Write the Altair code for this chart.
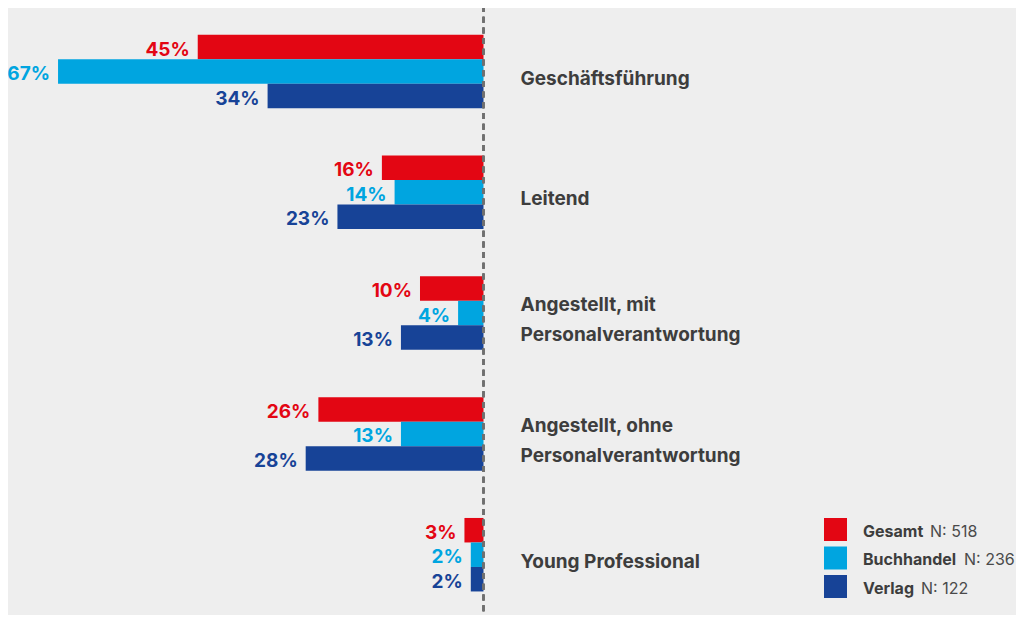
import altair as alt
import pandas as pd

categories = [
    "Geschäftsführung",
    "Leitend",
    "Angestellt, mit\nPersonalverantwortung",
    "Angestellt, ohne\nPersonalverantwortung",
    "Young Professional",
]
series = ["Gesamt", "Buchhandel", "Verlag"]
gesamt = [45, 16, 10, 26, 3]
buchhandel = [67, 14, 4, 13, 2]
verlag = [34, 23, 13, 28, 2]
sample_n = [518, 236, 122]
colors = ["#E30613", "#00A5E0", "#174397"]

# layout constants (not data)
W, H = 1008, 607
FONT = "Inter"
TEXT_GREY = "#3d3d3d"
legend_n_x = [922, 956, 913]

rows = []
for s, vals in zip(series, [gesamt, buchhandel, verlag]):
    for c, v in zip(categories, vals):
        rows.append({"category": c, "series": s, "value": v, "label": f"{v}%"})
df = pd.DataFrame(rows)

cat_rows = []
for c in categories:
    parts = c.split("\n")
    cat_rows.append({"category": c, "line1": parts[0],
                     "line2": parts[1] if len(parts) > 1 else "",
                     "nlines": len(parts)})
cat_df = pd.DataFrame(cat_rows)

leg_df = pd.DataFrame({
    "series": series,
    "ntext": [f"N: {n}" for n in sample_n],
    "row": list(range(len(series))),
    "nx": legend_n_x,
})

yenc = alt.Y("category:N", sort=categories, axis=None,
             scale=alt.Scale(domain=categories, paddingInner=0.3916,
                             paddingOuter=0.2082, align=0.532))
yoff = alt.YOffset("series:N", sort=series, scale=alt.Scale(paddingInner=0, paddingOuter=0))
xscale = alt.Scale(domain=[-74.88, 83.86], nice=False, zero=False)
cenc = alt.Color("series:N", scale=alt.Scale(domain=series, range=colors), legend=None)

base = alt.Chart(df).transform_calculate(neg="-datum.value")

bars = base.mark_bar().encode(
    y=yenc, yOffset=yoff,
    x=alt.X("neg:Q", scale=xscale, axis=None),
    x2=alt.datum(0),
    color=cenc,
)

pct = base.mark_text(align="right", baseline="alphabetic", dx=-8, dy=8.5,
                     fontSize=19, fontWeight="bold", font=FONT).encode(
    y=yenc, yOffset=yoff,
    x=alt.X("neg:Q", scale=xscale, axis=None),
    text="label:N",
    color=cenc,
)

cat_style = dict(align="left", baseline="alphabetic", dx=37,
                 fontSize=19, fontWeight="bold", font=FONT, color=TEXT_GREY)
cat_base = alt.Chart(cat_df)
cat_single = cat_base.transform_filter("datum.nlines == 1").mark_text(dy=13, **cat_style).encode(
    y=yenc, x=alt.datum(0, scale=xscale), text="line1:N")
cat_multi1 = cat_base.transform_filter("datum.nlines == 2").mark_text(dy=-2, **cat_style).encode(
    y=yenc, x=alt.datum(0, scale=xscale), text="line1:N")
cat_multi2 = cat_base.transform_filter("datum.nlines == 2").mark_text(dy=28, **cat_style).encode(
    y=yenc, x=alt.datum(0, scale=xscale), text="line2:N")

rule = alt.Chart(cat_df).mark_rule(strokeDash=[6, 4.7], strokeDashOffset=2,
                                   color="#6f6f6f", strokeWidth=2).encode(
    x=alt.datum(0, scale=xscale),
    y=alt.value(0),
    y2=alt.value(H),
)

main = alt.layer(bars, pct, cat_single, cat_multi1, cat_multi2, rule)

leg = alt.Chart(leg_df).transform_calculate(
    ly="510 + 28.5 * datum.row",
    ly2="533 + 28.5 * datum.row",
    lb="528.5 + 28.5 * datum.row",
)
leg_sq = leg.mark_rect().encode(
    x=alt.value(816), x2=alt.value(839),
    y=alt.Y("ly:Q", scale=None, axis=None), y2="ly2:Q",
    color=cenc,
)
leg_name = leg.mark_text(align="left", baseline="alphabetic", fontSize=16,
                         fontWeight="bold", font=FONT, color=TEXT_GREY).encode(
    x=alt.value(855),
    y=alt.Y("lb:Q", scale=None, axis=None),
    text="series:N",
)
leg_n = leg.mark_text(align="left", baseline="alphabetic", fontSize=16,
                      fontWeight="normal", font=FONT, color="#4a4a4a").encode(
    x=alt.X("nx:Q", scale=None, axis=None),
    y=alt.Y("lb:Q", scale=None, axis=None),
    text="ntext:N",
)
legend = alt.layer(leg_sq, leg_name, leg_n)

chart = alt.layer(main, legend).resolve_scale(
    y="independent"
).properties(
    width=W, height=H,
    background="#eeeeee",
    padding=0,
    autosize=alt.AutoSizeParams(type="none"),
).configure_view(stroke=None)

chart.save("out.html", embed_options={"renderer": "svg", "actions": False})
